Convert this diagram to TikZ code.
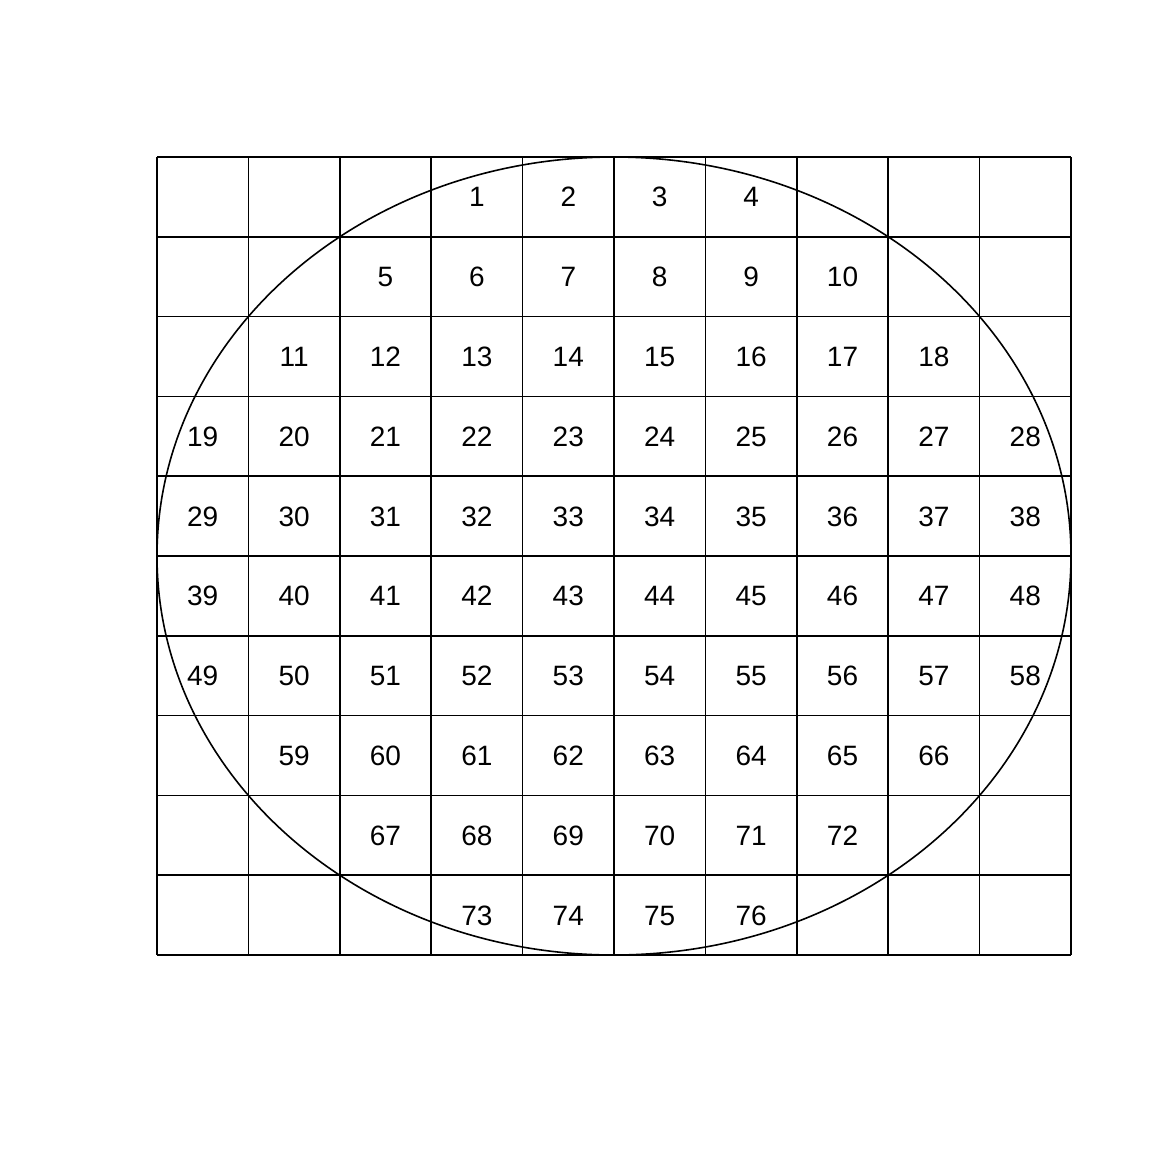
\documentclass[tikz,border=0pt]{standalone}
\usepackage{fontspec}
\setmainfont{Liberation Sans}
\begin{document}
\begin{tikzpicture}[x=1pt,y=-1pt,
  gridline/.style={line width=1.6pt,black},
  lab/.style={font=\fontsize{28}{30}\selectfont,inner sep=0pt,text height=20pt,text depth=0pt,anchor=center}]
\useasboundingbox (0,0) rectangle (1152,1152);
\fill[white] (0,0) rectangle (1152,1152);
% grid
\foreach \i in {0,...,10}{
  \draw[gridline] ({157+91.4*\i},157) -- ({157+91.4*\i},955);
  \draw[gridline] (157,{157+79.8*\i}) -- (1071,{157+79.8*\i});
}
% ellipse
\draw[gridline] (614,556) ellipse [x radius=457, y radius=399];
% labels
\newcounter{cellno}
\foreach \r/\a/\b in {0/3/6,1/2/7,2/1/8,3/0/9,4/0/9,5/0/9,6/0/9,7/1/8,8/2/7,9/3/6}{
  \foreach \c in {\a,...,\b}{
    \stepcounter{cellno}
    \node[lab] (n\thecellno) at ({157+91.4*(\c+0.5)},{157+79.8*(\r+0.5)}) {\thecellno};
  }
}
\end{tikzpicture}
\end{document}
